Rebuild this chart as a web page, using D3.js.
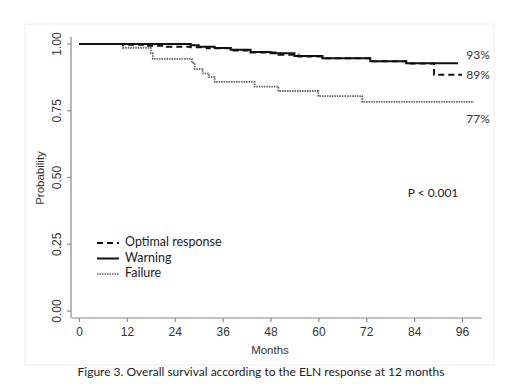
<!DOCTYPE html>
<html><head><meta charset="utf-8">
<script src="https://cdn.jsdelivr.net/npm/d3@7"></script>
<style>body{margin:0;background:#fff}svg{display:block}</style>
</head><body>
<svg id="c" width="520" height="389"></svg>
<script>
const xTicks = [0,12,24,36,48,60,72,84,96];
const yTicks = [0,0.25,0.5,0.75,1];
const optimal = [[0,1],[11,0.997],[17,0.993],[22,0.99],[28,0.988],[32,0.984],[38,0.976],[43,0.968],[50,0.96],[55,0.953],[61,0.947],[73,0.935],[82,0.927],[89,0.885],[96,0.885]];
const warning = [[0,1],[28,0.995],[30,0.99],[34,0.985],[38,0.978],[43,0.97],[48,0.965],[54,0.955],[61,0.947],[73,0.935],[82,0.928],[95,0.928]];
const failure = [[0,1],[11,0.986],[18,0.966],[18.5,0.944],[28.3,0.929],[29,0.906],[31,0.89],[32.5,0.876],[34,0.858],[44,0.84],[50,0.824],[60,0.805],[71,0.783],[99,0.783]];
const endLabels = [["93%",56],["89%",76],["77%",120]];
const legendItems = [["Optimal response","6,4",2,"#111"],["Warning",null,2,"#111"],["Failure","1.5,1",1.5,"#666"]];

const svg = d3.select("#c");
svg.append("rect").attr("x",25).attr("y",24).attr("width",469).attr("height",341).attr("fill","none").attr("stroke","#eee");

const x = d3.scaleLinear().domain([0,96]).range([79,462]);
const y = d3.scaleLinear().domain([0,1]).range([311,44]);
const axisColor = "#888";

const xa = svg.append("g").attr("transform","translate(0,318)")
  .call(d3.axisBottom(x).tickValues(xTicks).tickSize(4).tickSizeOuter(0));
xa.select(".domain").attr("d","M72,0H482");
const ya = svg.append("g").attr("transform","translate(71,0)")
  .call(d3.axisLeft(y).tickValues(yTicks).tickSize(4).tickFormat(d3.format(".2f")).tickSizeOuter(0));
ya.select(".domain").attr("d","M0,37V318");
[xa,ya].forEach(g=>{
  g.selectAll(".domain,line").attr("stroke",axisColor).attr("stroke-width",1.2);
  g.selectAll("text").attr("fill","#333").style("font-family","Liberation Sans, Arial").style("font-size","12px");
});
xa.selectAll("text").attr("y",9);
ya.selectAll("text").attr("transform",null).each(function(d){
  d3.select(this).attr("x",0).attr("dy",null).attr("text-anchor","middle")
   .attr("transform",`translate(-13,${y(d)}) rotate(-90)`).attr("y",0).attr("dominant-baseline","middle");
});
ya.selectAll(".tick").attr("transform",null);
ya.selectAll(".tick line").attr("transform",d=>`translate(0,${y(d)})`);

svg.append("text").attr("x",270).attr("y",354).attr("text-anchor","middle").attr("fill","#333")
  .style("font-family","Liberation Sans, Arial").style("font-size","11.5px").text("Months");
svg.append("text").attr("transform","translate(44,178) rotate(-90)").attr("text-anchor","middle").attr("fill","#333")
  .style("font-family","Liberation Sans, Arial").style("font-size","11.5px").text("Probability");

const line = d3.line().x(d=>x(d[0])).y(d=>y(d[1])).curve(d3.curveStepAfter);
svg.append("path").datum(failure).attr("d",line).attr("fill","none").attr("stroke","#666").attr("stroke-width",1.8).attr("stroke-dasharray","1.5,1");
svg.append("path").datum(warning).attr("d",line).attr("fill","none").attr("stroke","#111").attr("stroke-width",2);
svg.append("path").datum(optimal).attr("d",line).attr("fill","none").attr("stroke","#111").attr("stroke-width",2).attr("stroke-dasharray","6,4");

const f = "Lato, 'Open Sans', sans-serif";
endLabels.forEach(([t,yy])=>{
  svg.append("text").attr("x",478).attr("y",yy).attr("text-anchor","middle").attr("dominant-baseline","middle")
   .attr("fill","#333").style("font-family",f).style("font-size","12px").text(t);
});
svg.append("text").attr("x",433).attr("y",194).attr("text-anchor","middle").attr("dominant-baseline","middle")
  .attr("fill","#222").style("font-family",f).style("font-size","12px").text("P < 0.001");

legendItems.forEach(([t,dash,w,c],i)=>{
  const yy = 243 + i*15.5;
  const l = svg.append("line").attr("x1",97).attr("x2",119).attr("y1",yy).attr("y2",yy).attr("stroke",c).attr("stroke-width",w);
  if(dash) l.attr("stroke-dasharray",dash);
  svg.append("text").attr("x",125).attr("y",yy).attr("dominant-baseline","middle").attr("fill","#222")
   .style("font-family",f).style("font-size","12.5px").text(t);
});

svg.append("text").attr("x",261).attr("y",373).attr("text-anchor","middle").attr("dominant-baseline","middle")
  .attr("fill","#222").style("font-family",f).style("font-size","12px").text("Figure 3. Overall survival according to the ELN response at 12 months");
</script>
</body></html>
